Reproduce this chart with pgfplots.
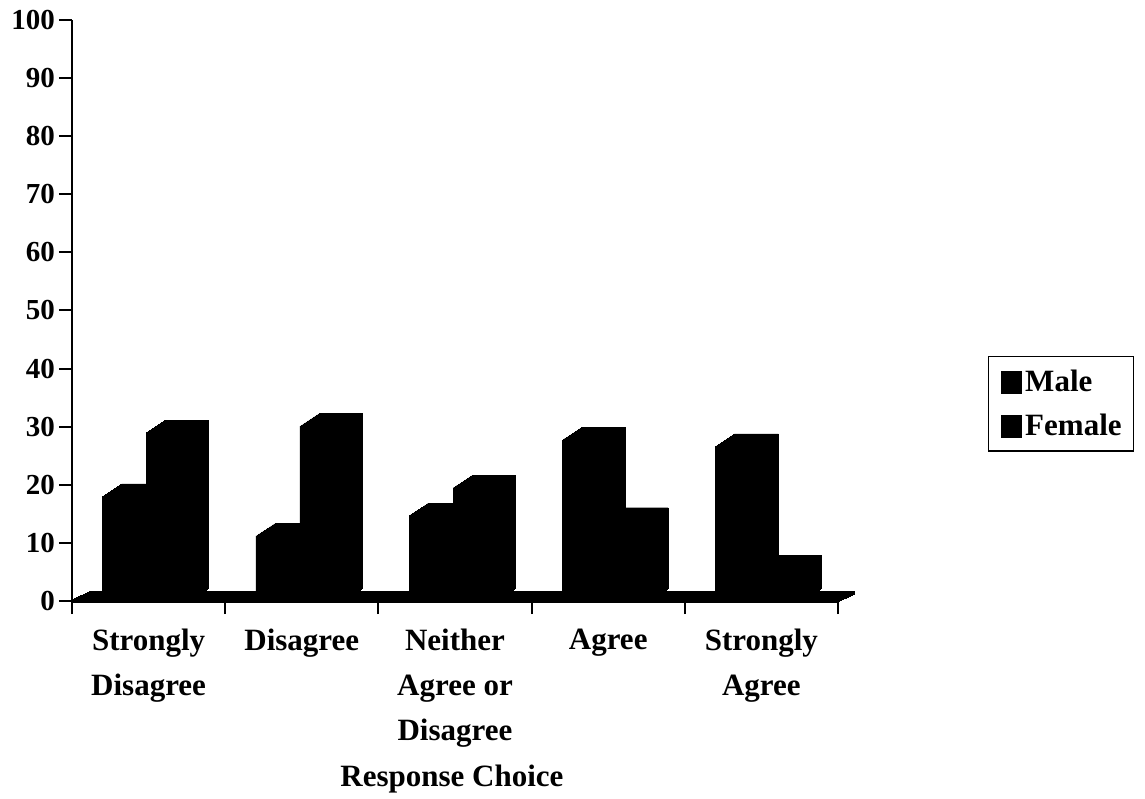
\documentclass[border=0pt]{standalone}
\usepackage{fontspec}
\setmainfont{Liberation Serif}
\usepackage{pgfplots}
\usepackage{pgfplotstable}
\pgfplotsset{compat=1.18}

% Percentage of respondents per response choice
\pgfplotstableread{
pos value
0.5 18.0
1.5 11.2
2.5 14.7
3.5 27.7
4.5 26.6
}\maletable
\pgfplotstableread{
pos value
0.5 29.0
1.5 30.1
2.5 19.5
3.5 13.9
4.5 5.7
}\femaletable

\begin{document}
\begin{tikzpicture}
\path[use as bounding box] (-72pt,-198pt) rectangle (1073pt,601pt);
\begin{axis}[
  at={(0pt,0pt)}, anchor=south west,
  scale only axis, width=766pt, height=581pt,
  xmin=0, xmax=5, ymin=0, ymax=100,
  axis lines*=left,
  x axis line style={draw=none},
  y axis line style={line width=2.2pt},
  tick align=outside,
  tick style={black, line width=2pt},
  major tick length=13pt,
  minor tick length=13pt,
  ytick={0,10,...,100},
  xtick={0.5,1.5,...,4.5},
  minor xtick={0,1,...,5},
  major x tick style={draw=none},
  xticklabels={{Strongly\\Disagree}, Disagree, {Neither\\Agree or\\Disagree}, Agree, {Strongly\\Agree}},
  /pgf/number format/assume math mode=true,
  yticklabel style={font=\fontsize{29}{31}\selectfont\bfseries, anchor=east, inner sep=0pt, xshift=-4pt},
  xticklabel style={font=\fontsize{31}{45}\selectfont\bfseries, align=center, anchor=north, inner sep=0pt, yshift=-15pt},
  xlabel={Response Choice},
  xlabel style={at={(axis description cs:0.5,0)}, anchor=base, inner sep=0pt, yshift=-185pt, xshift=-3pt,
    font=\fontsize{31}{37}\selectfont\bfseries},
  legend style={at={(1.1958,0.2565)}, anchor=south west, draw=black, line width=1.5pt,
    inner xsep=12pt, inner ysep=13pt,
    font=\fontsize{31}{37}\selectfont\bfseries,
    nodes={inner sep=0pt, text height=22pt, text depth=0pt},
    row sep=19pt, column sep=3pt},
  legend cell align=left,
  legend image code/.code={\fill[black] (0pt,-13pt) rectangle (20pt,9pt);},
  clip=false,
]
% floor slab
\pgfplotsinvokeforeach{0,...,17}{
  \addplot[forget plot, black, line width=3.5pt, xshift=#1 pt, yshift={8/17*#1 pt}]
    coordinates {(0,0) (5,0)};
}
% extruded columns
\pgfplotsinvokeforeach{0,...,19}{
  \addplot[ybar, forget plot, fill=black, draw=black, line width=0.4pt,
    bar width=44pt, bar shift={(-24+#1)*1pt}, yshift={12.5/19*#1 pt}]
    table[x=pos, y=value] {\maletable};
  \addplot[ybar, forget plot, fill=black, draw=black, line width=0.4pt,
    bar width=43pt, bar shift={(19.5+#1)*1pt}, yshift={12.5/19*#1 pt}]
    table[x=pos, y=value] {\femaletable};
}
\addlegendimage{fill=black}
\addlegendentry{Male}
\addlegendimage{fill=black}
\addlegendentry{Female}
\end{axis}
\end{tikzpicture}
\end{document}
